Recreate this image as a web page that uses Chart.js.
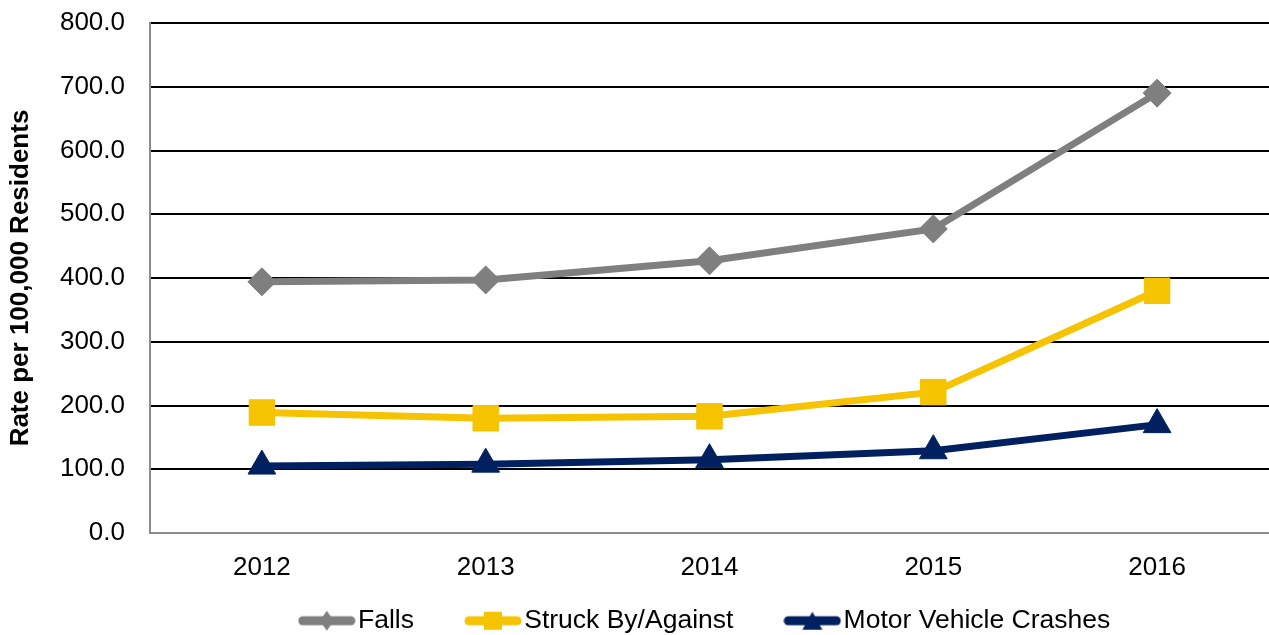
<!DOCTYPE html>
<html>
<head>
<meta charset="utf-8">
<script src="https://cdn.jsdelivr.net/npm/chart.js@4/dist/chart.umd.min.js"></script>
<style>
    html, body { margin: 0; padding: 0; background: #fff; }
    #wrap { width: 1269px; height: 635px; }
</style>
</head>
<body>
<div id="wrap"><canvas id="injuryChart"></canvas></div>
<script>
const years = ['2012', '2013', '2014', '2015', '2016'];
const falls = [394, 397, 427, 477, 690];
const struckBy = [189, 180, 183, 221, 380];
const motorVehicle = [105, 108, 115, 129, 170];
const seriesNames = ['Falls', 'Struck By/Against', 'Motor Vehicle Crashes'];

const grey = '#7f7f7f';
const gold = '#f5c300';
const navy = '#002060';
const fontFamily = 'Liberation Sans, Arial, sans-serif';

// little line + marker pictures for the legend
function legendIcon(color, shape) {
    const c = document.createElement('canvas');
    c.width = 58;
    c.height = 22;
    const g = c.getContext('2d');
    g.strokeStyle = color;
    g.fillStyle = color;
    g.lineWidth = 9;
    g.lineCap = 'round';
    g.beginPath();
    g.moveTo(5, 11);
    g.lineTo(53, 11);
    g.stroke();
    g.beginPath();
    if (shape === 'diamond') {
        g.moveTo(29, 1); g.lineTo(36, 11); g.lineTo(29, 21); g.lineTo(22, 11);
    } else if (shape === 'square') {
        g.rect(20, 2, 18, 18);
    } else {
        g.moveTo(29, 2); g.lineTo(39, 20); g.lineTo(19, 20);
    }
    g.closePath();
    g.fill();
    return c;
}
const legendIcons = [legendIcon(grey, 'diamond'), legendIcon(gold, 'square'), legendIcon(navy, 'triangle')];

const ctx = document.getElementById('injuryChart').getContext('2d');
const injuryChart = new Chart(ctx, {
    type: 'line',
    data: {
        labels: years,
        datasets: [{
            label: seriesNames[0],
            data: falls,
            borderColor: grey,
            backgroundColor: grey,
            borderWidth: 7,
            pointStyle: 'rectRot',
            pointRadius: 14,
            pointBorderWidth: 1,
            fill: false
        }, {
            label: seriesNames[1],
            data: struckBy,
            borderColor: gold,
            backgroundColor: gold,
            borderWidth: 7,
            pointStyle: 'rect',
            pointRadius: 18,
            pointBorderWidth: 1,
            fill: false
        }, {
            label: seriesNames[2],
            data: motorVehicle,
            borderColor: navy,
            backgroundColor: navy,
            borderWidth: 7,
            pointStyle: 'triangle',
            pointRadius: 16,
            pointBorderWidth: 1,
            fill: false
        }]
    },
    options: {
        responsive: true,
        maintainAspectRatio: false,
        animation: false,
        layout: { autoPadding: false, padding: { top: 23, right: 0, bottom: 0, left: 0 } },
        scales: {
            x: {
                offset: true,
                grid: { display: false },
                border: { color: '#8c8c8c', width: 2 },
                // mirrored so the labels are not clipped to the thin axis box
                ticks: { color: '#000', font: { family: fontFamily, size: 26 }, mirror: true, padding: -50 },
                afterFit: function (scale) { scale.height = 13.5; }
            },
            y: {
                min: 0,
                max: 800,
                ticks: {
                    stepSize: 100,
                    color: '#000',
                    padding: 25,
                    font: { family: fontFamily, size: 26 },
                    callback: function (v) { return v.toFixed(1); }
                },
                grid: {
                    drawTicks: false,
                    lineWidth: 2,
                    color: function (c) { return c.tick && c.tick.value === 0 ? '#8c8c8c' : '#000'; }
                },
                border: { color: '#8c8c8c', width: 2 },
                title: {
                    display: true,
                    text: 'Rate per 100,000 Residents',
                    color: '#000',
                    font: { family: fontFamily, size: 26, weight: 'bold' },
                    padding: { top: 5, bottom: 0 }
                },
                afterFit: function (scale) {
                    scale.width = 150;
                    scale.paddingTop = 0;
                    scale.paddingBottom = 0;
                }
            }
        },
        plugins: {
            tooltip: { enabled: false },
            legend: {
                position: 'bottom',
                fullSize: false,
                maxHeight: 88.5,
                labels: {
                    usePointStyle: true,
                    pointStyleWidth: 36,
                    padding: 61,
                    color: '#000',
                    font: { family: fontFamily, size: 26.5 },
                    generateLabels: function (chart) {
                        const items = Chart.defaults.plugins.legend.labels.generateLabels(chart);
                        items.forEach(function (item, i) { item.pointStyle = legendIcons[i]; });
                        return items;
                    }
                }
            }
        }
    }
});
</script>
</body>
</html>
